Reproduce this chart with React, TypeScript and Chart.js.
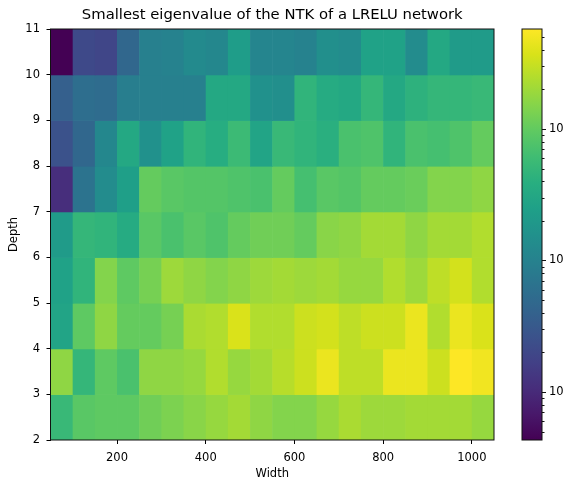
import { useEffect, useRef } from 'react';
import { Chart, registerables } from 'chart.js';

Chart.register(...registerables);

// ---- data ----
const widthStarts = [50, 100, 150, 200, 250, 300, 350, 400, 450, 500, 550, 600, 650, 700, 750, 800, 850, 900, 950, 1000];
const binWidth = 50;
const depths = [2, 3, 4, 5, 6, 7, 8, 9, 10];

const eigDepth2 = [5.36, 8.87, 9.53, 9.53, 11.8, 13.6, 15.8, 18.2, 21.0, 16.9, 14.7, 14.7, 18.2, 22.6, 19.6, 19.6, 21.0, 21.0, 21.0, 18.2];
const eigDepth3 = [16.9, 4.99, 9.53, 7.14, 16.9, 16.9, 18.2, 24.3, 18.2, 21.0, 26.1, 32.4, 46.4, 28.0, 28.0, 46.4, 46.4, 32.4, 57.5, 49.9];
const eigDepth4 = [2.80, 9.53, 16.9, 10.2, 10.2, 12.7, 22.6, 24.3, 37.4, 24.3, 24.3, 32.4, 34.8, 28.0, 32.4, 32.4, 46.4, 24.3, 46.4, 37.4];
const eigDepth5 = [2.61, 4.64, 14.7, 9.53, 12.7, 19.6, 16.9, 14.7, 16.9, 19.6, 21.0, 19.6, 21.0, 18.2, 18.2, 24.3, 19.6, 28.0, 34.8, 24.3];
const eigDepth6 = [2.10, 4.99, 4.64, 3.48, 8.87, 7.14, 8.87, 7.68, 10.2, 11.8, 11.8, 10.2, 15.8, 16.9, 21.0, 21.0, 16.9, 21.0, 21.0, 24.3];
const eigDepth7 = [0.110, 0.665, 1.36, 2.43, 10.2, 8.87, 8.25, 8.25, 7.68, 7.14, 10.2, 6.65, 8.87, 8.25, 10.2, 10.2, 11.0, 14.7, 14.7, 16.9];
const eigDepth8 = [0.261, 0.463, 1.18, 3.24, 1.58, 2.61, 4.64, 3.74, 5.75, 2.80, 5.36, 4.64, 4.02, 7.14, 7.68, 4.64, 7.14, 6.65, 7.68, 10.2];
const eigDepth9 = [0.373, 0.575, 0.535, 0.887, 0.953, 0.953, 0.953, 3.24, 3.24, 1.58, 1.47, 4.64, 3.48, 3.24, 4.99, 3.24, 4.32, 4.99, 4.99, 5.36];
const eigDepth10 = [0.0432, 0.210, 0.195, 0.463, 0.953, 1.02, 1.27, 1.18, 2.26, 1.10, 1.10, 1.02, 1.47, 1.36, 2.61, 2.61, 1.36, 3.24, 2.10, 2.10];

const eigRows = [eigDepth2, eigDepth3, eigDepth4, eigDepth5, eigDepth6, eigDepth7, eigDepth8, eigDepth9, eigDepth10];

const xTicks = [200, 400, 600, 800, 1000];
const yTicks = [2, 3, 4, 5, 6, 7, 8, 9, 10, 11];
const cbarTicks = [0.1, 1, 10];
const cbarTickLabels = ['10', '10', '10'];

const titleText = 'Smallest eigenvalue of the NTK of a LRELU network';
const xLabel = 'Width';
const yLabel = 'Depth';

// ---- colormap (viridis) ----
const viridisStops = [
  '#440154', '#48186a', '#472d7b', '#424086', '#3b528b', '#33638d', '#2c728e', '#26828e',
  '#21918c', '#1fa088', '#28ae80', '#3fbc73', '#5ec962', '#84d44b', '#addc30', '#d8e219', '#fde725',
];

function hexToRgb(h: string) {
  return [parseInt(h.slice(1, 3), 16), parseInt(h.slice(3, 5), 16), parseInt(h.slice(5, 7), 16)];
}
const viridisRgb = viridisStops.map(hexToRgb);

function viridis(t: number) {
  const tt = Math.min(1, Math.max(0, t)) * (viridisRgb.length - 1);
  const i = Math.min(viridisRgb.length - 2, Math.floor(tt));
  const f = tt - i;
  const a = viridisRgb[i], b = viridisRgb[i + 1];
  const c = a.map((v, k) => Math.round(v + (b[k] - v) * f));
  return `rgb(${c[0]},${c[1]},${c[2]})`;
}

const allVals = eigRows.flat();
const vmin = Math.min(...allVals);
const vmax = Math.max(...allVals);

function colorFor(v: number) {
  const t = (Math.log10(v) - Math.log10(vmin)) / (Math.log10(vmax) - Math.log10(vmin));
  return viridis(t);
}

const FONT = '"DejaVu Sans", sans-serif';
const TICK_SIZE = 11.5;

const heatmapPlugin = {
  id: 'heatmapCells',
  beforeDatasetsDraw(chart: any) {
    const { ctx, chartArea } = chart;
    const xs = chart.scales.x;
    const ys = chart.scales.y;
    ctx.save();
    ctx.beginPath();
    ctx.rect(chartArea.left, chartArea.top, chartArea.right - chartArea.left, chartArea.bottom - chartArea.top);
    ctx.clip();
    eigRows.forEach((row, r) => {
      const d = depths[r];
      const yTop = ys.getPixelForValue(d + 1);
      const yBot = ys.getPixelForValue(d);
      row.forEach((v, c) => {
        const x0 = xs.getPixelForValue(widthStarts[c]);
        const x1 = xs.getPixelForValue(widthStarts[c] + binWidth);
        ctx.fillStyle = colorFor(v);
        ctx.fillRect(x0, yTop, x1 - x0 + 0.6, yBot - yTop + 0.6);
      });
    });
    ctx.restore();
    // frame
    ctx.save();
    ctx.strokeStyle = '#111';
    ctx.lineWidth = 1;
    ctx.strokeRect(chartArea.left, chartArea.top, chartArea.right - chartArea.left, chartArea.bottom - chartArea.top);
    ctx.restore();
  },
};

const colorbarPlugin = {
  id: 'colorbar',
  afterDraw(chart: any) {
    const { ctx, chartArea } = chart;
    const cb = chart.scales.cb;
    const left = chartArea.right + 28;
    const w = 20;
    const yTop = cb.getPixelForValue(vmax);
    const yBot = cb.getPixelForValue(vmin);
    ctx.save();
    const grad = ctx.createLinearGradient(0, yBot, 0, yTop);
    viridisStops.forEach((c, i) => grad.addColorStop(i / (viridisStops.length - 1), c));
    ctx.fillStyle = grad;
    ctx.fillRect(left, yTop, w, yBot - yTop);
    ctx.strokeStyle = '#111';
    ctx.lineWidth = 1;
    ctx.strokeRect(left, yTop, w, yBot - yTop);

    // minor ticks
    ctx.beginPath();
    const eMin = Math.floor(Math.log10(vmin));
    const eMax = Math.ceil(Math.log10(vmax));
    for (let e = eMin; e <= eMax; e++) {
      for (let k = 2; k <= 9; k++) {
        const v = k * Math.pow(10, e);
        if (v < vmin || v > vmax) continue;
        const y = Math.round(cb.getPixelForValue(v)) + 0.5;
        ctx.moveTo(left + w, y);
        ctx.lineTo(left + w + 2.5, y);
      }
    }
    ctx.stroke();
    // major ticks + labels
    ctx.beginPath();
    cbarTicks.forEach((v) => {
      const y = Math.round(cb.getPixelForValue(v)) + 0.5;
      ctx.moveTo(left + w, y);
      ctx.lineTo(left + w + 4, y);
    });
    ctx.stroke();
    ctx.fillStyle = '#000';
    ctx.font = `${TICK_SIZE}px ${FONT}`;
    ctx.textBaseline = 'middle';
    ctx.textAlign = 'left';
    cbarTicks.forEach((v, i) => {
      const y = cb.getPixelForValue(v);
      ctx.fillText(cbarTickLabels[i], left + w + 7, y);
    });
    ctx.restore();
  },
};

export default function App() {
  const ref = useRef<HTMLCanvasElement | null>(null);
  useEffect(() => {
    if (!ref.current) return;
    const chart = new Chart(ref.current, {
      type: 'scatter',
      data: { datasets: [] },
      options: {
        animation: false,
        responsive: false,
        layout: { padding: { left: 0, right: 74, top: 0, bottom: 0 } },
        plugins: {
          legend: { display: false },
          tooltip: { enabled: false },
          title: {
            display: true,
            text: titleText,
            fullSize: false,
            color: '#000',
            font: { family: FONT, size: 14.8, weight: 'normal', lineHeight: 1.0 },
            padding: { top: 8, bottom: 6.2 },
          },
        },
        scales: {
          x: {
            type: 'linear',
            min: 50,
            max: 1050,
            afterBuildTicks: (s: any) => { s.ticks = xTicks.map((v) => ({ value: v })); },
            afterFit: (s: any) => { s.height = 41; },
            grid: { drawOnChartArea: false, drawTicks: true, tickLength: 4, color: '#000' },
            border: { display: false },
            ticks: {
              color: '#000', font: { family: FONT, size: TICK_SIZE }, padding: 7, maxRotation: 0, autoSkip: false,
              callback: (v: any) => String(v),
            },
            title: { display: true, text: xLabel, color: '#000', font: { family: FONT, size: TICK_SIZE, lineHeight: 1 }, padding: { top: 0, bottom: 1 } },
          },
          y: {
            type: 'linear',
            min: 2,
            max: 11,
            afterBuildTicks: (s: any) => { s.ticks = yTicks.map((v) => ({ value: v })); },
            afterFit: (s: any) => { s.width = 50.5; },
            grid: { drawOnChartArea: false, drawTicks: true, tickLength: 4, color: '#000' },
            border: { display: false },
            ticks: { color: '#000', font: { family: FONT, size: TICK_SIZE }, padding: 6.5, autoSkip: false, callback: (v: any) => String(v) },
            title: { display: true, text: yLabel, color: '#000', font: { family: FONT, size: TICK_SIZE, lineHeight: 1 }, padding: { top: 8, bottom: 0 } },
          },
          cb: {
            type: 'logarithmic',
            position: 'right',
            display: false,
            min: vmin,
            max: vmax,
            bounds: 'data',
          },
        },
      } as any,
      plugins: [heatmapPlugin, colorbarPlugin],
    });
    return () => chart.destroy();
  }, []);
  return (
    <div style={{ width: 552, height: 465 }}>
      <canvas ref={ref} width={568} height={481} style={{ display: 'block', position: 'absolute', left: 0, top: 0 }} />
    </div>
  );
}
